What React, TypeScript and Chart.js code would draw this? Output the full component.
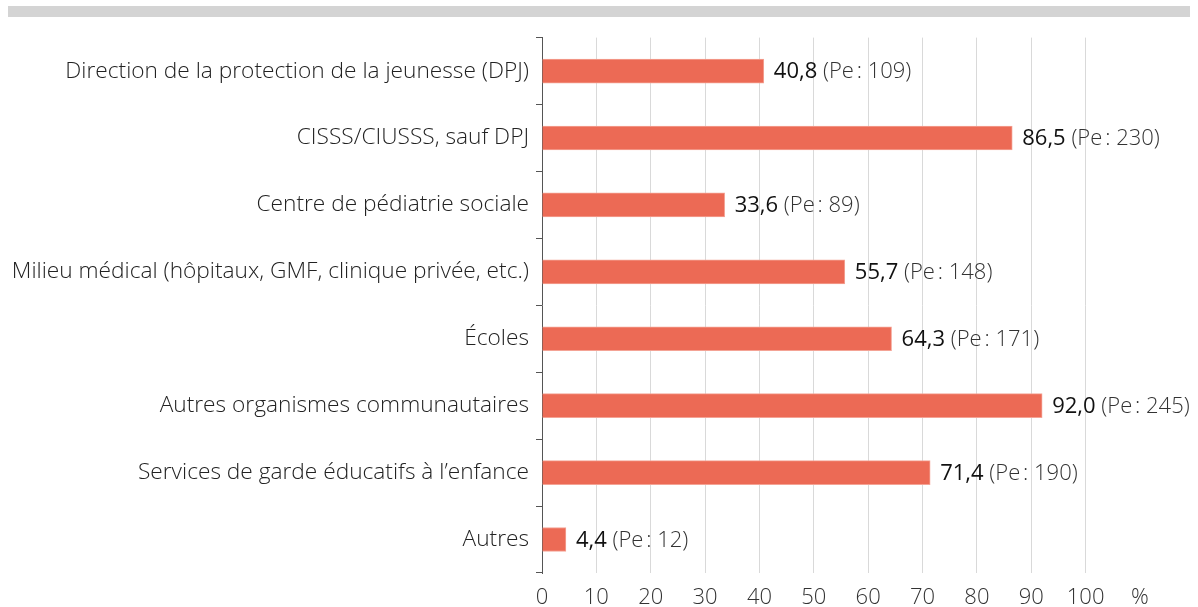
import React, { useEffect, useRef } from "react";
import { Chart, registerables } from "chart.js";

Chart.register(...registerables);

const categories = [
  "Direction de la protection de la jeunesse (DPJ)",
  "CISSS/CIUSSS, sauf DPJ",
  "Centre de pédiatrie sociale",
  "Milieu médical (hôpitaux, GMF, clinique privée, etc.)",
  "Écoles",
  "Autres organismes communautaires",
  "Services de garde éducatifs à l’enfance",
  "Autres",
];
const percentValues = [40.8, 86.5, 33.6, 55.7, 64.3, 92.0, 71.4, 4.4];
const peValues = [109, 230, 89, 148, 171, 245, 190, 12];
const xTickValues = [0, 10, 20, 30, 40, 50, 60, 70, 80, 90, 100];
const unitLabel = "%";

const FONT = "'Open Sans', 'Noto Sans', sans-serif";
const FS = 22;

const labelPlugin = {
  id: "barLabels",
  afterDatasetsDraw(chart: any) {
    const ctx = chart.ctx;
    const meta = chart.getDatasetMeta(0);
    ctx.save();
    ctx.textBaseline = "middle";
    ctx.textAlign = "left";
    meta.data.forEach((bar: any, i: number) => {
      const v = percentValues[i].toFixed(1).replace(".", ",");
      const rest = " (Pe\u202F: " + peValues[i] + ")";
      let x = bar.x + 10;
      const y = bar.y + 1;
      ctx.font = `400 ${FS}px ${FONT}`;
      ctx.fillStyle = "#111111";
      ctx.fillText(v, x, y);
      x += ctx.measureText(v).width;
      ctx.font = `300 ${FS}px ${FONT}`;
      ctx.fillStyle = "#333333";
      ctx.fillText(rest, x, y);
    });
    ctx.restore();
  },
};

export default function App() {
  const ref = useRef<HTMLCanvasElement | null>(null);
  useEffect(() => {
    if (!ref.current) return;
    const chart = new Chart(ref.current, {
      type: "bar",
      data: {
        labels: categories,
        datasets: [
          {
            data: percentValues,
            backgroundColor: "#EC6A55",
            borderColor: "#F4A395",
            borderWidth: 1,
            barThickness: 24,
          },
        ],
      },
      plugins: [labelPlugin],
      options: {
        indexAxis: "y",
        animation: false,
        responsive: false,
        maintainAspectRatio: false,
        layout: { padding: { top: 16, right: 50, left: 0, bottom: 0 } },
        plugins: { legend: { display: false }, tooltip: { enabled: false } },
        scales: {
          x: {
            min: 0,
            max: 110,
            afterBuildTicks(scale: any) {
              scale.ticks = [...xTickValues, 110].map((v) => ({ value: v }));
            },
            afterFit(scale: any) {
              scale.height = 34;
            },
            ticks: {
              padding: 12,
              color: "#333333",
              font: { family: FONT, size: FS, weight: 300 as any },
              callback: (v: any) => (Number(v) === 110 ? unitLabel : String(v)),
              maxRotation: 0,
              autoSkip: false,
            },
            grid: {
              drawTicks: false,
              color: (c: any) =>
                c.tick && (c.tick.value === 0 || c.tick.value === 110)
                  ? "rgba(0,0,0,0)"
                  : "#D9D9D9",
              lineWidth: 1,
            },
            border: { display: false },
          },
          y: {
            afterFit(scale: any) {
              scale.width = 534;
            },
            ticks: {
              padding: 7,
              color: "#222222",
              font: { family: FONT, size: 22.7, weight: 300 as any },
              autoSkip: false,
            },
            grid: {
              offset: true,
              drawOnChartArea: false,
              drawTicks: true,
              tickLength: 6,
              color: "#555555",
            },
            border: { display: true, color: "#555555", width: 1 },
          },
        },
      },
    });
    return () => chart.destroy();
  }, []);
  return (
    <div style={{ position: "absolute", left: 8, top: 6, width: 1182 }}>
      <div style={{ height: 11, background: "#D4D4D4" }} />
      <canvas ref={ref} width={1182} height={590} style={{ display: "block", width: 1182, height: 590 }} />
    </div>
  );
}
